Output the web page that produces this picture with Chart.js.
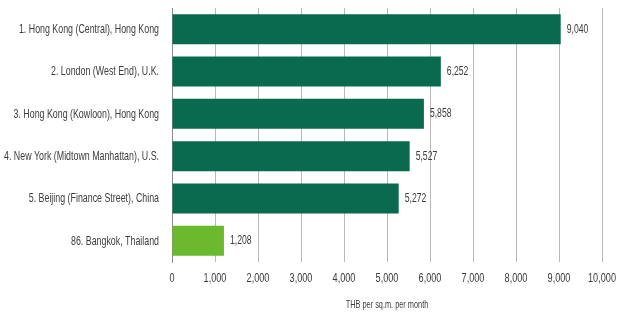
<!DOCTYPE html>
<html lang="en">
<head>
  <meta charset="UTF-8">
  <title>Prime office rents</title>
  <script src="https://cdn.jsdelivr.net/npm/chart.js@4"></script>
  <style>
    html, body { margin: 0; padding: 0; background: #fff; }
    #wrap { width: 627px; height: 313px; }
  </style>
</head>
<body>
  <div id="wrap"><canvas id="myChart"></canvas></div>
  <script>
    // Data
    const locations = [
      '1. Hong Kong (Central), Hong Kong',
      '2. London (West End), U.K.',
      '3. Hong Kong (Kowloon), Hong Kong',
      '4. New York (Midtown Manhattan), U.S.',
      '5. Beijing (Finance Street), China',
      '86. Bangkok, Thailand'
    ];
    const rents = [9040, 6252, 5858, 5527, 5272, 1208];
    const barColors = ['#0a6a4e', '#0a6a4e', '#0a6a4e', '#0a6a4e', '#0a6a4e', '#6bb92c'];
    const axisTitle = 'THB per sq.m. per month';

    const textColor = '#3c3c3c';

    // no narrow font installed, so squeeze regular text horizontally
    function narrowText(ctx, text, x, y, align, size, squeeze) {
      ctx.save();
      ctx.font = size + 'px "Liberation Sans", Arial, sans-serif';
      ctx.fillStyle = textColor;
      ctx.textAlign = align;
      ctx.textBaseline = 'middle';
      ctx.translate(x, y);
      ctx.scale(squeeze, 1);
      ctx.fillText(text, 0, 0);
      ctx.restore();
    }

    // category labels, tick labels, axis title and bar values
    const textLayer = {
      id: 'textLayer',
      afterDraw(chart) {
        const ctx = chart.ctx;
        const area = chart.chartArea;
        const xs = chart.scales.x;
        const ys = chart.scales.y;

        chart.data.labels.forEach((lab, i) => {
          narrowText(ctx, lab, area.left - 13, ys.getPixelForValue(i), 'right', 13.5, 0.655);
        });

        xs.ticks.forEach(t => {
          narrowText(ctx, t.value.toLocaleString('en-US'), xs.getPixelForValue(t.value),
                     area.bottom + 17, 'center', 12.5, 0.73);
        });

        narrowText(ctx, axisTitle, (area.left + area.right) / 2, area.bottom + 43, 'center', 10.5, 0.7);

        chart.getDatasetMeta(0).data.forEach((bar, i) => {
          narrowText(ctx, rents[i].toLocaleString('en-US'), bar.x + 6, bar.y, 'left', 12.5, 0.69);
        });
      }
    };

    new Chart(document.getElementById('myChart'), {
      type: 'bar',
      data: {
        labels: locations,
        datasets: [{
          data: rents,
          backgroundColor: barColors,
          categoryPercentage: 0.71,
          barPercentage: 1.0
        }]
      },
      options: {
        indexAxis: 'y',
        responsive: true,
        maintainAspectRatio: false,
        animation: false,
        layout: { padding: { top: 8, right: 25, left: 172, bottom: 51 } },
        plugins: {
          legend: { display: false },
          tooltip: { enabled: false }
        },
        scales: {
          x: {
            min: 0,
            max: 10000,
            ticks: { stepSize: 1000, display: false },
            grid: { color: '#b8b8b8', drawTicks: false },
            border: { display: false }
          },
          y: {
            ticks: { display: false },
            grid: { display: false, drawTicks: false },
            border: { display: true, color: '#8a8a8a' }
          }
        }
      },
      plugins: [textLayer]
    });
  </script>
</body>
</html>
